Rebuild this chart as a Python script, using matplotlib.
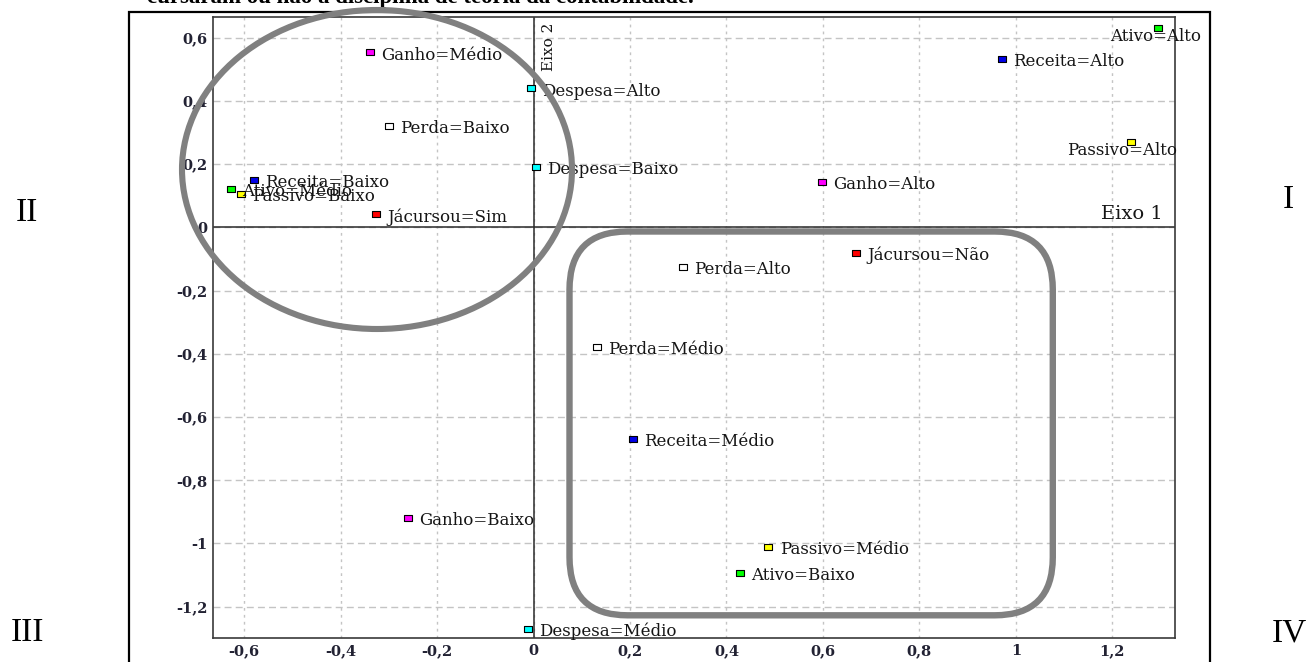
import numpy as np
import matplotlib.pyplot as plt
from matplotlib.patches import Ellipse, FancyBboxPatch, Rectangle

# Coordenadas das categorias nos dois eixos da análise de correspondência
categorias = ['Ganho=Médio', 'Despesa=Alto', 'Perda=Baixo', 'Despesa=Baixo',
              'Receita=Baixo', 'Ativo=Médio', 'Passivo=Baixo', 'Jácursou=Sim',
              'Ganho=Alto', 'Receita=Alto', 'Ativo=Alto', 'Passivo=Alto',
              'Jácursou=Não', 'Perda=Alto', 'Perda=Médio', 'Receita=Médio',
              'Ganho=Baixo', 'Passivo=Médio', 'Ativo=Baixo', 'Despesa=Médio']
eixo1 = [-0.339, -0.006, -0.299, 0.005,
         -0.580, -0.628, -0.607, -0.326,
         0.598, 0.971, 1.294, 1.239,
         0.669, 0.309, 0.131, 0.207,
         -0.261, 0.487, 0.428, -0.011]
eixo2 = [0.554, 0.440, 0.322, 0.192,
         0.150, 0.121, 0.105, 0.042,
         0.145, 0.533, 0.632, 0.271,
         -0.080, -0.124, -0.379, -0.669,
         -0.919, -1.010, -1.094, -1.270]

xticks = [-0.6, -0.4, -0.2, 0, 0.2, 0.4, 0.6, 0.8, 1, 1.2]
xtick_labels = ['-0,6', '-0,4', '-0,2', '0', '0,2', '0,4', '0,6', '0,8', '1', '1,2']
yticks = [0.6, 0.4, 0.2, 0, -0.2, -0.4, -0.6, -0.8, -1, -1.2]
ytick_labels = ['0,6', '0,4', '0,2', '0', '-0,2', '-0,4', '-0,6', '-0,8', '-1', '-1,2']

cores = {'Ganho': '#ff00ff', 'Despesa': '#00ffff', 'Perda': '#ffffff',
         'Receita': '#0000e8', 'Ativo': '#00ff00', 'Passivo': '#ffff00',
         'Jácursou': '#ff0000'}

# rótulos que ficam abaixo do ponto (perto da borda direita)
abaixo = {'Ativo=Alto': (-1.5, -6.5), 'Passivo=Alto': (-6.7, -6.0)}

# marcador retangular achatado
quad = [(-1.45, -1), (1.45, -1), (1.45, 1), (-1.45, 1), (-1.45, -1)]

fig = plt.figure(figsize=(13.16, 6.62), dpi=100)
ax = fig.add_axes([0.1619, 0.0358, 0.7310, 0.9390])
ax.set_xlim(-0.6645, 1.330)
ax.set_ylim(-1.300, 0.6666)

ax.set_xticks(xticks)
ax.set_xticklabels(xtick_labels)
ax.set_yticks(yticks)
ax.set_yticklabels(ytick_labels)
ax.tick_params(length=0, pad=4, labelsize=10.5, labelcolor='#222233')
for t in ax.get_xticklabels() + ax.get_yticklabels():
    t.set_family('DejaVu Serif')
    t.set_weight('bold')

ax.xaxis.grid(True, color='#c4c4c4', linestyle=(0, (2, 3)), lw=1)
ax.yaxis.grid(True, color='#c4c4c4', linestyle=(0, (5, 3)), lw=1)
ax.set_axisbelow(True)
for s in ax.spines.values():
    s.set_color('#3a3a3a')
    s.set_linewidth(1.2)

ax.axhline(0, color='#2a2a2a', lw=1.1, zorder=2)
ax.axvline(0, color='#2a2a2a', lw=1.1, zorder=2)

for nome, x, y in zip(categorias, eixo1, eixo2):
    cor = cores[nome.split('=')[0]]
    ax.plot(x, y, marker=quad, ms=6, mfc=cor, mec='black', mew=0.8,
            ls='none', zorder=4)
    if nome in abaixo:
        ax.annotate(nome, (x, y), xytext=abaixo[nome], textcoords='offset points',
                    ha='center', va='center', fontsize=12, family='DejaVu Serif',
                    color='#151515', zorder=5)
    else:
        ax.annotate(nome, (x, y), xytext=(8, -2), textcoords='offset points',
                    ha='left', va='center', fontsize=12, family='DejaVu Serif',
                    color='#151515', zorder=5)

ax.annotate('Eixo 1', (1.305, 0), xytext=(0, 3), textcoords='offset points',
            ha='right', va='bottom', fontsize=14, family='DejaVu Serif',
            color='#151515')
ax.annotate('Eixo 2', (0, 0.6666), xytext=(11, -4), textcoords='offset points',
            ha='center', va='top', rotation=90, fontsize=11,
            family='DejaVu Serif', color='#151515')

# moldura externa e marcações dos grupos (em polegadas da figura)
tr = fig.dpi_scale_trans
fig.add_artist(Rectangle((1.29, -0.5), 10.81, 7.003, transform=tr,
                         fill=False, ec='black', lw=1.6))
fig.add_artist(Ellipse((3.77, 4.925), 3.90, 3.19, transform=tr,
                       fill=False, ec='#808080', lw=4.4, zorder=10))
fig.add_artist(FancyBboxPatch((5.695, 0.467), 4.833, 3.838, transform=tr,
                              boxstyle='round,pad=0,rounding_size=0.58',
                              fill=False, ec='#808080', lw=4.6, zorder=10))

for txt, x, y in [('II', 0.27, 4.49), ('I', 12.88, 4.62),
                  ('III', 0.27, 0.29), ('IV', 12.89, 0.29)]:
    fig.text(x, y, txt, transform=tr, ha='center', va='center',
             fontsize=24, family='Liberation Serif')

fig.text(1.47, 6.585, 'cursaram ou não a disciplina de teoria da contabilidade.',
         transform=tr, ha='left', va='baseline', fontsize=16.5,
         family='Liberation Serif', weight='bold')

fig.savefig('out.png', dpi=100)
